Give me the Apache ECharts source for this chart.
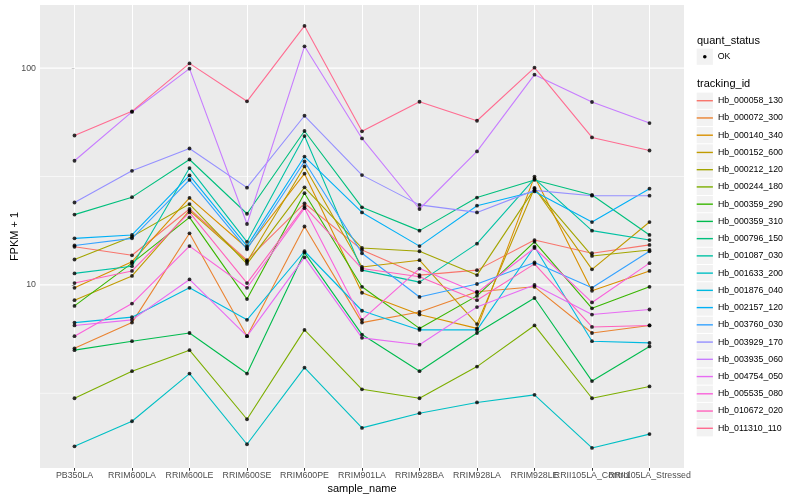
<!DOCTYPE html>
<html><head><meta charset="utf-8">
<script src="https://cdn.jsdelivr.net/npm/echarts@6/dist/echarts.min.js"></script>
<style>html,body{margin:0;padding:0;background:#fff}#c{width:800px;height:500px}</style>
</head><body><div id="c"></div>
<script>
const categories = ['PB350LA','RRIM600LA','RRIM600LE','RRIM600SE','RRIM600PE','RRIM901LA','RRIM928BA','RRIM928LA','RRIM928LE','RRII105LA_Control','RRII105LA_Stressed'];
const yTickLabels = [10, 100];
const yMinorGrid = [3.1623, 31.623];
const xMin = -0.6, xMax = 10.6;

const Hb_000058_130 = [15.0, 13.7, 22.4, 13.0, 23.8, 14.5, 11.1, 11.7, 16.1, 14.0, 15.3];
const Hb_000072_300 = [5.1, 6.7, 17.3, 5.8, 18.6, 6.7, 7.5, 9.3, 9.8, 6.0, 6.5];
const Hb_000140_340 = [9.7, 12.8, 25.2, 14.8, 32.6, 9.2, 7.3, 6.3, 31.6, 9.4, 11.6];
const Hb_000152_600 = [8.5, 11.0, 22.0, 12.8, 35.2, 12.1, 13.0, 6.6, 28.0, 11.8, 19.5];
const Hb_000212_120 = [13.1, 16.7, 23.6, 12.5, 28.2, 14.8, 14.3, 11.1, 27.8, 13.6, 14.5];
const Hb_000244_180 = [3.0, 4.0, 5.0, 2.4, 6.2, 3.3, 3.0, 4.2, 6.5, 3.0, 3.4];
const Hb_000359_290 = [8.0, 12.6, 20.5, 8.6, 26.5, 9.8, 6.3, 8.9, 15.8, 7.8, 9.8];
const Hb_000359_310 = [5.0, 5.5, 6.0, 3.9, 14.1, 5.9, 4.0, 6.0, 8.7, 3.6, 5.2];
const Hb_000796_150 = [21.1, 25.4, 37.9, 21.3, 51.3, 22.8, 17.8, 25.3, 30.5, 26.0, 17.0];
const Hb_001087_030 = [11.3, 12.2, 34.6, 15.8, 48.6, 11.7, 10.3, 15.5, 30.9, 17.8, 16.1];
const Hb_001633_200 = [1.8, 2.35, 3.9, 1.84, 4.15, 2.19, 2.56, 2.87, 3.11, 1.77, 2.05];
const Hb_001876_040 = [6.7, 7.1, 9.7, 6.9, 14.3, 7.6, 6.2, 6.2, 15.0, 5.5, 5.4];
const Hb_002157_120 = [16.4, 17.0, 32.0, 15.1, 39.1, 21.6, 15.1, 23.2, 27.0, 19.5, 27.8];
const Hb_003760_030 = [15.2, 16.4, 30.5, 14.6, 37.1, 14.0, 8.8, 10.1, 12.7, 9.7, 14.3];
const Hb_003929_170 = [24.0, 33.6, 42.6, 28.1, 60.3, 32.1, 23.4, 21.6, 27.3, 25.8, 25.8];
const Hb_003935_060 = [37.4, 62.8, 99.5, 19.1, 126.1, 47.4, 22.4, 41.3, 93.3, 69.8, 55.8];
const Hb_004754_050 = [6.5, 6.9, 10.6, 5.8, 13.4, 5.7, 5.3, 7.9, 10.0, 7.3, 7.7];
const Hb_005535_080 = [5.8, 8.2, 15.1, 9.7, 22.6, 6.9, 11.9, 9.2, 14.8, 8.3, 12.6];
const Hb_010672_020 = [10.2, 11.6, 21.6, 10.2, 23.0, 11.9, 10.9, 8.5, 12.5, 6.4, 6.5];
const Hb_011310_110 = [48.9, 63.2, 105.2, 70.3, 156.6, 51.1, 70.0, 57.2, 100.5, 47.9, 41.7];

const trackingIds = ['Hb_000058_130','Hb_000072_300','Hb_000140_340','Hb_000152_600','Hb_000212_120','Hb_000244_180','Hb_000359_290','Hb_000359_310','Hb_000796_150','Hb_001087_030','Hb_001633_200','Hb_001876_040','Hb_002157_120','Hb_003760_030','Hb_003929_170','Hb_003935_060','Hb_004754_050','Hb_005535_080','Hb_010672_020','Hb_011310_110'];
const seriesValues = [Hb_000058_130,Hb_000072_300,Hb_000140_340,Hb_000152_600,Hb_000212_120,Hb_000244_180,Hb_000359_290,Hb_000359_310,Hb_000796_150,Hb_001087_030,Hb_001633_200,Hb_001876_040,Hb_002157_120,Hb_003760_030,Hb_003929_170,Hb_003935_060,Hb_004754_050,Hb_005535_080,Hb_010672_020,Hb_011310_110];
const colors = ['#F8766D','#EA8331','#D89000','#C09B00','#A3A500','#7CAE00','#39B600','#00BB4E','#00BF7D','#00C1A3','#00BFC4','#00BAE0','#00B0F6','#35A2FF','#9590FF','#C77CFF','#E76BF3','#FA62DB','#FF62BC','#FF6C91'];

const FONT = '"Liberation Sans", Arial, Helvetica, sans-serif';
const chart = echarts.init(document.getElementById('c'), null, {renderer: 'canvas'});
const catIdx = categories.map((c, i) => i);

// horizontal panel grid lines (major + minor), drawn through the axes
const gridDefs = yTickLabels.map(v => ({w: 1.15, v})).concat(yMinorGrid.map(v => ({w: 0.6, v})));
const gridSeries = gridDefs.map((g, i) => ({
  name: 'grid' + i, type: 'line', xAxisIndex: 0, yAxisIndex: 0,
  data: [[xMin, g.v], [xMax, g.v]], symbol: 'none', zlevel: 0, z: 1, silent: true,
  lineStyle: {color: '#FFFFFF', width: g.w}, itemStyle: {color: '#FFFFFF'}, emphasis: {disabled: true}
}));

const lineSeries = trackingIds.map((id, k) => ({
  name: id, type: 'line', xAxisIndex: 0, yAxisIndex: 0,
  data: seriesValues[k].map((v, i) => [i, v]),
  symbol: 'none', zlevel: 1, z: 2, silent: true,
  lineStyle: {color: colors[k], width: 1.1},
  itemStyle: {color: colors[k]},
  emphasis: {disabled: true}
}));
const pts = [];
seriesValues.forEach(arr => arr.forEach((v, i) => pts.push([i, v])));
const pointSeries = {
  name: 'OK', type: 'scatter', xAxisIndex: 0, yAxisIndex: 0, data: pts,
  symbol: 'circle', symbolSize: 3.8, itemStyle: {color: '#000'}, zlevel: 1, z: 6, silent: true
};

const graphics = [];
graphics.push({type: 'text', x: 697, y: 40.7, style: {text: 'quant_status', fontSize: 11, fontFamily: FONT, fill: '#000', verticalAlign: 'middle'}});
graphics.push({type: 'rect', shape: {x: 696.7, y: 48.6, width: 16.2, height: 16.2}, style: {fill: '#F2F2F2'}});
graphics.push({type: 'circle', shape: {cx: 704.8, cy: 56.7, r: 1.8}, style: {fill: '#000'}});
graphics.push({type: 'text', x: 717.7, y: 56.7, style: {text: 'OK', fontSize: 8.8, fontFamily: FONT, fill: '#000', verticalAlign: 'middle'}});
graphics.push({type: 'text', x: 697, y: 84, style: {text: 'tracking_id', fontSize: 11, fontFamily: FONT, fill: '#000', verticalAlign: 'middle'}});
trackingIds.forEach((id, i) => {
  const cy = 100.7 + i * 17.24;
  graphics.push({type: 'rect', shape: {x: 696.7, y: cy - 8.1, width: 16.2, height: 16.2}, style: {fill: '#F2F2F2'}});
});

const xLabelBase = {color: '#4D4D4D', fontSize: 8.8, margin: 3.5, fontFamily: FONT, hideOverlap: false, showMinLabel: true, showMaxLabel: true, formatter: v => categories[Math.round(v)]};
const labelGroups = [catIdx.slice(0, 9), [9], [10]];
const xAxes = labelGroups.map((grp, gi) => ({
  type: 'value', min: xMin, max: xMax, position: 'bottom', offset: 0,
  axisLine: {show: false},
  axisTick: gi === 0 ? {show: true, customValues: catIdx, length: 2.75, lineStyle: {color: '#333333', width: 1}} : {show: false},
  axisLabel: Object.assign({customValues: grp}, xLabelBase),
  splitLine: gi === 0 ? {show: true, lineStyle: {color: '#FFFFFF', width: 1.07}} : {show: false},
  minorSplitLine: {show: false}
}));
Object.assign(xAxes[0], {name: 'sample_name', nameLocation: 'middle', nameGap: 15, nameMoveOverlap: false,
  nameTextStyle: {fontSize: 11, color: '#000', fontFamily: FONT}});

const option = {
  animation: false,
  backgroundColor: '#FFFFFF',
  textStyle: {fontFamily: FONT},
  grid: {left: 40, top: 5, width: 644, height: 463, show: true, backgroundColor: '#EBEBEB', borderWidth: 0, containLabel: false, outerBoundsMode: 'none'},
  xAxis: xAxes,
  yAxis: {
    type: 'log', logBase: 10, min: 1.43, max: 195.6,
    name: 'FPKM + 1', nameLocation: 'middle', nameRotate: 90, nameGap: 20, nameMoveOverlap: false,
    nameTextStyle: {fontSize: 11, color: '#000', fontFamily: FONT},
    axisLine: {show: false},
    axisTick: {show: true, customValues: yTickLabels, length: 2.75, lineStyle: {color: '#333333', width: 1}},
    axisLabel: {customValues: yTickLabels, formatter: v => String(Math.round(v)), color: '#4D4D4D', fontSize: 8.8, margin: 4, fontFamily: FONT},
    splitLine: {show: false}
  },
  legend: {
    data: trackingIds, orient: 'vertical', left: 696.7, top: 92.1, padding: 0,
    icon: 'rect', itemWidth: 16.2, itemHeight: 1.4, itemGap: 0,
    selectedMode: false,
    textStyle: {fontSize: 8.8, color: '#000', fontFamily: FONT, lineHeight: 17.24}
  },
  graphic: graphics,
  series: gridSeries.concat(lineSeries).concat([pointSeries])
};
chart.setOption(option);
</script></body></html>
